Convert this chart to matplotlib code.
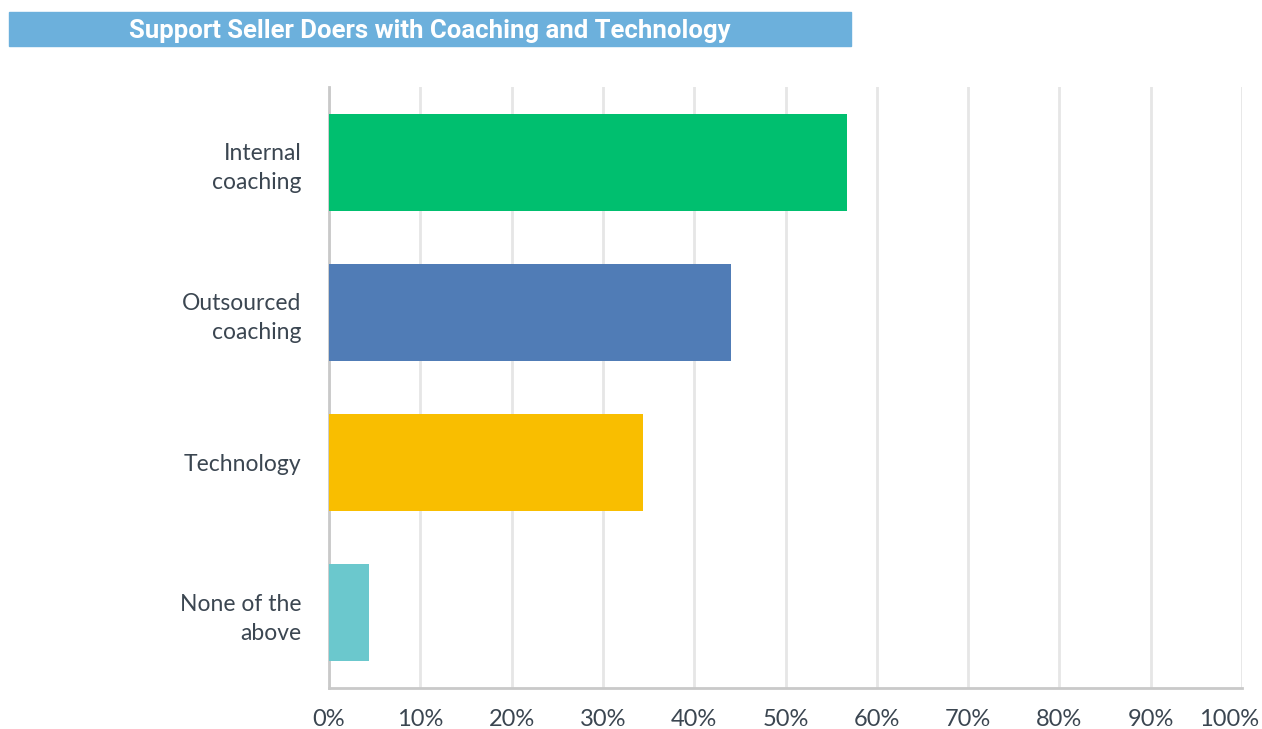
import matplotlib.pyplot as plt
from matplotlib.patches import Rectangle
from matplotlib.ticker import MultipleLocator, FuncFormatter

categories = ["Internal\ncoaching", "Outsourced\ncoaching", "Technology", "None of the\nabove"]
values = [56.7, 44.0, 34.4, 4.4]
colors = ["#00bf6f", "#507cb6", "#f9be00", "#6bc8cd"]
title = "Support Seller Doers with Coaching and Technology"

plt.rcParams['font.family'] = ['Lato', 'DejaVu Sans']
label_color = "#3b4651"

fig = plt.figure(figsize=(12.62, 7.29), dpi=100)
ax = fig.add_axes([0.2607, 0.0562, 0.7235, 0.8245])

ypos = range(len(categories))
ax.barh(ypos, values, height=0.645, color=colors, zorder=3)
ax.set_ylim(len(categories) - 0.5, -0.5)
ax.set_xlim(0, 100)
ax.set_yticks(list(ypos))
ax.set_yticklabels(categories, fontsize=16.5, color=label_color, linespacing=1.45,
                   ha="right")
ax.xaxis.set_major_locator(MultipleLocator(10))
# the 100% label is drawn separately, nudged left so it stays on the canvas
ax.xaxis.set_major_formatter(FuncFormatter(lambda v, p: "" if v >= 100 else f"{int(v)}%"))
ax.tick_params(axis="x", labelsize=17, labelcolor=label_color, length=0, pad=15)
ax.tick_params(axis="y", length=0, pad=20)
ax.annotate("100%", xy=(100, 0), xycoords=("data", "axes fraction"),
            xytext=(-9.5, -15), textcoords="offset points", ha="center", va="top",
            fontsize=17, color=label_color)

ax.grid(axis="x", color="#e6e6e6", linewidth=2, zorder=0)
for side in ["top", "right"]:
    ax.spines[side].set_visible(False)
for side in ["left", "bottom"]:
    ax.spines[side].set_color("#c9c9c9")
    ax.spines[side].set_linewidth(2)

# title banner
fig.patches.append(Rectangle((9 / 1262, 1 - 46 / 729), 842 / 1262, 34 / 729,
                             transform=fig.transFigure, color="#6cb0dc", zorder=0))
fig.text(430 / 1262, 1 - 31 / 729, title, ha="center", va="center",
         color="white", fontsize=18.5, fontweight="bold",
         family=["Roboto", "DejaVu Sans"])

fig.savefig("out.png", dpi=100)
